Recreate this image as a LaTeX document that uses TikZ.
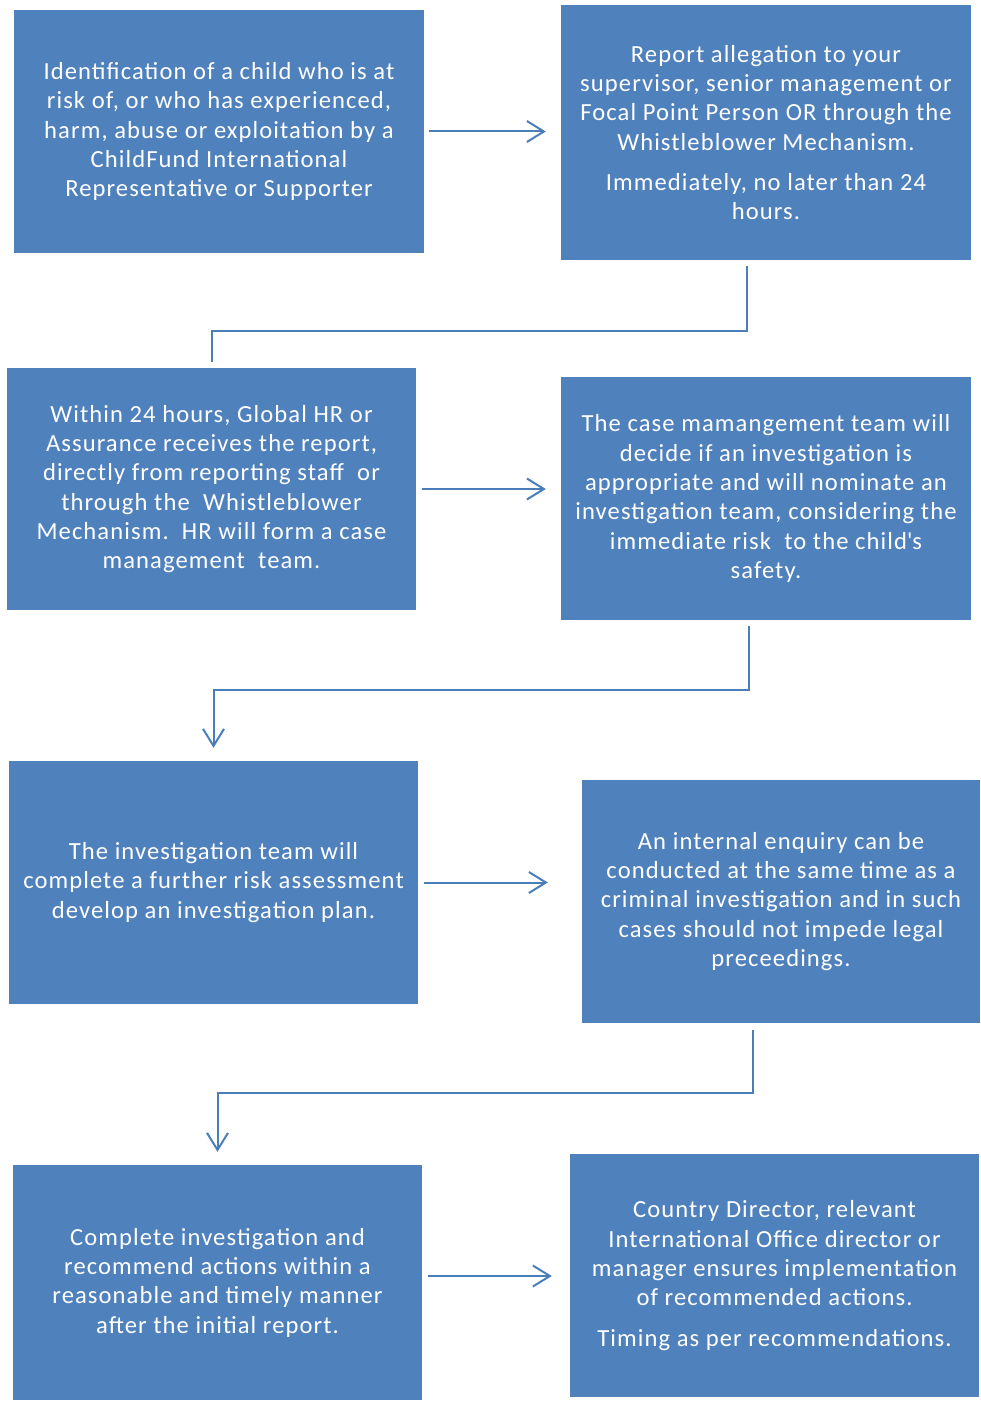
\documentclass[tikz,border=0pt]{standalone}
\usepackage{fontspec}
\setmainfont{Carlito}[LetterSpace=4.4]
\usetikzlibrary{arrows.meta}
\definecolor{boxblue}{HTML}{4F81BD}
\definecolor{lineblue}{HTML}{4A7EBB}
\begin{document}
\begin{tikzpicture}[x=1pt, y=-1pt,
  box/.style={fill=boxblue, text=white, align=center, inner sep=0pt,
    minimum width=409pt, minimum height=243pt,
    font=\fontsize{24.6}{29.3}\selectfont},
  link/.style={draw=lineblue, line width=2pt},
  flow/.style={link, -{Straight Barb[length=17pt, width=21pt, line width=2pt]}}]
  \useasboundingbox (0,0) rectangle (980,1402);

  % Boxes, left column
  \node[box, minimum width=410pt] (id) at (219, 131.5)
    {Identification of a child who is at\\ risk of, or who has experienced,\\
     harm, abuse or exploitation by a\\ ChildFund International\\
     Representative or Supporter};
  \node[box, minimum height=242pt] (hr) at (211.5, 489)
    {Within 24 hours, Global HR or\\ Assurance receives the report,\\
     directly from reporting staff\ \ or\\ through the\ \ Whistleblower\\
     Mechanism.\ \ HR will form a case\\ management\ \ team.};
  \node[box] (plan) at (213.5, 882.5)
    {The investigation team will\\ complete a further risk assessment\\
     develop an investigation plan.};
  \node[box, minimum height=235pt] (complete) at (217.5, 1282.5)
    {Complete investigation and\\ recommend actions within a\\
     reasonable and timely manner\\ after the initial report.};

  % Boxes, right column
  \node[box, minimum width=410pt, minimum height=255pt] (report) at (766, 132.5)
    {Report allegation to your\\ supervisor, senior management or\\
     Focal Point Person OR through the\\ Whistleblower Mechanism.\\[11pt]
     Immediately, no later than 24\\ hours.};
  \node[box, minimum width=410pt] (team) at (766, 498.5)
    {The case mamangement team will\\ decide if an investigation is\\
     appropriate and will nominate an\\ investigation team, considering the\\
     immediate risk\ \ to the child\textquotesingle s\\ safety.};
  \node[box, minimum width=398pt] (enquiry) at (781, 901.5)
    {An internal enquiry can be\\ conducted at the same time as a\\
     criminal investigation and in such\\ cases should not impede legal\\
     preceedings.};
  \node[box] (director) at (774.5, 1275.5)
    {Country Director, relevant\\ International Office director or\\
     manager ensures implementation\\ of recommended actions.\\[11pt]
     Timing as per recommendations.};

  % Horizontal arrows
  \draw[flow, shorten <=5pt, shorten >=15pt] (id.east) -- (id.east -| report.west);
  \draw[flow, shorten <=6pt, shorten >=15pt] (hr.east) -- (hr.east -| team.west);
  \draw[flow, shorten <=6pt, shorten >=34pt] (plan.east) -- (plan.east -| enquiry.west);
  \draw[flow, shorten <=6pt, shorten >=18pt] ([yshift=6.5pt]complete.east) -- ([yshift=6.5pt]complete.east -| director.west);

  % Elbow connectors
  \draw[link, shorten >=6pt] ([xshift=-19pt, yshift=-6pt]report.south) -- ++(0,65) -| (hr.north);
  \draw[flow, shorten >=13pt] ([xshift=-17pt, yshift=-6pt]team.south) -- ++(0,64) -| (plan.north);
  \draw[flow, shorten >=13pt] ([xshift=-28pt, yshift=-7pt]enquiry.south) -- ++(0,63) -| (complete.north);
\end{tikzpicture}
\end{document}
